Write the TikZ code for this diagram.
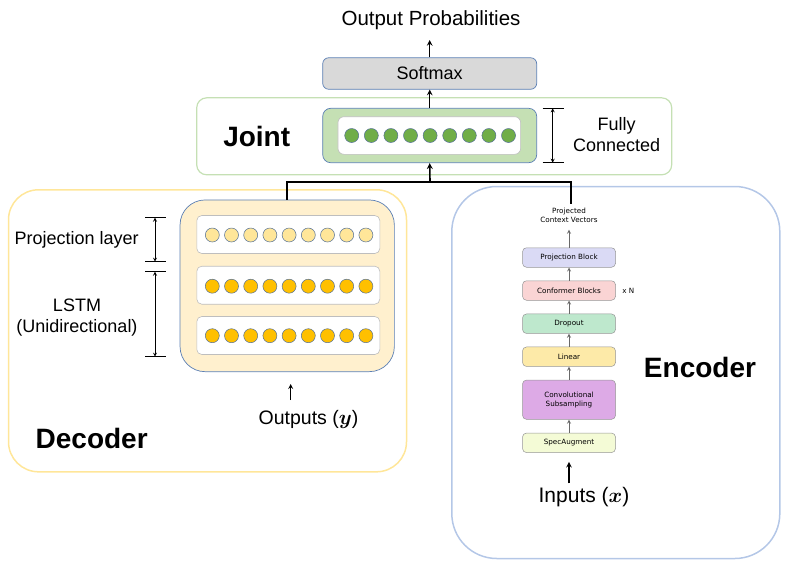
\documentclass[tikz,border=0pt]{standalone}
\usepackage{fontspec}
\setmainfont{Liberation Sans}
\newfontfamily\blockfont{DejaVu Sans}
\usepackage{amsmath}
\usetikzlibrary{arrows}

\definecolor{boxblue}{RGB}{91,127,180}
\definecolor{dotblue}{RGB}{84,112,150}
\definecolor{rowgray}{RGB}{190,190,190}
\definecolor{softgray}{RGB}{217,217,217}
\definecolor{jointgreen}{RGB}{197,224,180}
\definecolor{dotgreen}{RGB}{112,173,71}
\definecolor{decyellow}{RGB}{255,230,153}
\definecolor{decfill}{RGB}{255,240,206}
\definecolor{dotlight}{RGB}{255,230,153}
\definecolor{dotorange}{RGB}{255,192,0}
\definecolor{encblue}{RGB}{180,199,231}
\definecolor{projfill}{RGB}{218,218,245}
\definecolor{confill}{RGB}{250,212,212}
\definecolor{dropfill}{RGB}{190,232,205}
\definecolor{linfill}{RGB}{253,234,168}
\definecolor{convfill}{RGB}{221,170,230}
\definecolor{specfill}{RGB}{244,251,214}
\definecolor{blockline}{RGB}{150,150,150}

\tikzset{
  unit/.style={draw=dotblue, circle, line width=0.5pt, minimum size=14pt, inner sep=0pt, fill=#1},
  row/.style={draw=rowgray, fill=white, line width=0.6pt, rounded corners=5pt, minimum width=183pt, minimum height=38pt},
  block/.style={draw=blockline, line width=0.5pt, rounded corners=4pt, minimum width=93pt, minimum height=19.5pt, inner sep=0pt, align=center, fill=#1, font=\blockfont\fontsize{7.2}{8.7}\selectfont},
  small/.style={font=\blockfont\fontsize{7.2}{8.7}\selectfont, align=center},
  label/.style={font=\fontsize{18}{21}\selectfont, align=center},
  title/.style={font=\bfseries\fontsize{28}{32}\selectfont},
  bus/.style={line width=1.6pt},
  dim/.style={line width=0.8pt}
}

\begin{document}
\begin{tikzpicture}[x=1pt, y=-1pt, >=stealth]
  \useasboundingbox (0,0) rectangle (789,566);

  % outer boxes
  \node[draw=jointgreen, line width=1.2pt, rounded corners=10pt, minimum width=475pt, minimum height=77pt] (joint) at (434.2,136.3) {};
  \node[draw=decyellow, line width=1.5pt, rounded corners=30pt, minimum width=398pt, minimum height=282pt] (decoder) at (207.5,330.8) {};
  \node[draw=encblue, line width=1.5pt, rounded corners=45pt, minimum width=328pt, minimum height=372pt] (encoder) at (615.8,372.5) {};

  \node[title] (jointlbl) at (256.7,136.7) {Joint};
  \node[title] (declbl) at (91.7,438.3) {Decoder};
  \node[title] (enclbl) at (700,367.7) {Encoder};

  % softmax and output
  \node[draw=boxblue, fill=softgray, line width=0.7pt, rounded corners=6pt, minimum width=214pt, minimum height=31.5pt, font=\fontsize{18}{21}\selectfont] (soft) at (429.7,73.5) {Softmax};
  \node[font=\fontsize{20.5}{24}\selectfont] (outprob) at (431,20) {Output Probabilities};
  \coordinate (outtip) at (soft.north |- 0,40);
  \draw[->, line width=1.5pt] (soft.north) -- (outtip);

  % fully connected layer
  \node[draw=boxblue, fill=jointgreen, line width=0.7pt, rounded corners=8pt, minimum width=214pt, minimum height=54.4pt] (fc) at (429.7,135.5) {};
  \node[draw=rowgray, fill=white, line width=0.6pt, rounded corners=6pt, minimum width=182.7pt, minimum height=37.6pt] (fcrow) at (429.3,135.5) {};
  \foreach \i in {0,...,8}
    \node[unit=dotgreen] (g\i) at (351.7 + 19.6*\i, 135.5) {};
  \draw[->, line width=1.5pt] (fc.north) -- (soft.south);

  % fully connected size marker
  \coordinate (fctop) at (552.7,108.3);
  \coordinate (fcbot) at (552.7,162.7);
  \draw[<->, dim] (fctop) -- (fcbot);
  \draw[dim] ([xshift=-10pt]fctop) -- ([xshift=11pt]fctop);
  \draw[dim] ([xshift=-10pt]fcbot) -- ([xshift=11pt]fcbot);
  \node[label] (fclbl) at (616.7,134.5) {Fully\\Connected};

  % decoder layers
  \node[draw=boxblue, fill=decfill, line width=0.7pt, rounded corners=25pt, minimum width=214.3pt, minimum height=171.7pt] (decin) at (287.2,285.8) {};
  \node[row] (row1) at (288.3,234.5) {};
  \node[row] (row2) at (288.3,285.2) {};
  \node[row] (row3) at (288.3,335.5) {};
  \foreach \i in {0,...,8} {
    \node[unit=dotlight] (p\i) at (212.3 + 19.2*\i, 235) {};
    \node[unit=dotorange] (l\i) at (212.3 + 19.2*\i, 286.2) {};
    \node[unit=dotorange] (m\i) at (212.3 + 19.2*\i, 335.7) {};
  }

  % decoder size markers
  \coordinate (projtop) at (155,217.7);
  \coordinate (projbot) at (155,261.7);
  \coordinate (lstmtop) at (155,271.7);
  \coordinate (lstmbot) at (155,356.7);
  \draw[<->, dim] (projtop) -- (projbot);
  \draw[<->, dim] (lstmtop) -- (lstmbot);
  \foreach \c in {projtop,projbot,lstmtop,lstmbot}
    \draw[dim] ([xshift=-10pt]\c) -- ([xshift=11pt]\c);
  \node[label] (projlbl) at (76.7,240) {Projection layer};
  \node[label] (lstmlbl) at (77,318) {LSTM\\(Unidirectional)};

  % decoder input
  \node[font=\fontsize{19.5}{23}\selectfont] (outputs) at (308.5,419.3) {Outputs ($\boldsymbol{y}$)};
  \coordinate (outbase) at (290.7,400);
  \coordinate (outhead) at (290.7,384);
  \draw[->, line width=1.2pt] (outbase) -- (outhead);

  % encoder blocks
  \node[small] (ctx) at (569,215) {Projected\\Context Vectors};
  \node[block=projfill] (projblk) at (569,257.5) {Projection Block};
  \node[block=confill] (conf) at (569,290.5) {Conformer Blocks};
  \node[small] (times) at (628.3,291) {x N};
  \node[block=dropfill] (drop) at (569,323.7) {Dropout};
  \node[block=linfill] (lin) at (569,356.7) {Linear};
  \node[block=convfill, minimum height=39.3pt] (conv) at (569,399.7) {Convolutional\\Subsampling};
  \node[block=specfill] (spec) at (569,442.8) {SpecAugment};
  \draw[->, line width=0.8pt, blockline!70!black] (spec.north) -- (conv.south);
  \draw[->, line width=0.8pt, blockline!70!black] (conv.north) -- (lin.south);
  \draw[->, line width=0.8pt, blockline!70!black] (lin.north) -- (drop.south);
  \draw[->, line width=0.8pt, blockline!70!black] (drop.north) -- (conf.south);
  \draw[->, line width=0.8pt, blockline!70!black] (conf.north) -- (projblk.south);
  \draw[->, line width=0.8pt, blockline!70!black] (projblk.north) -- ([yshift=-4pt]ctx.south);

  % encoder input
  \node[font=\fontsize{21}{25}\selectfont] (inputs) at (584,496.7) {Inputs ($\boldsymbol{x}$)};
  \draw[->, line width=1.5pt] (inputs.north -| spec.south) -- ([yshift=-9pt]spec.south);

  % joint connections
  \coordinate (split) at (430,181.7);
  \draw[bus] ([xshift=-0.5pt]decin.north) |- (split) -| ([xshift=2pt]ctx.north);
  \draw[->, bus] (split) -- (fc.south);
\end{tikzpicture}
\end{document}
